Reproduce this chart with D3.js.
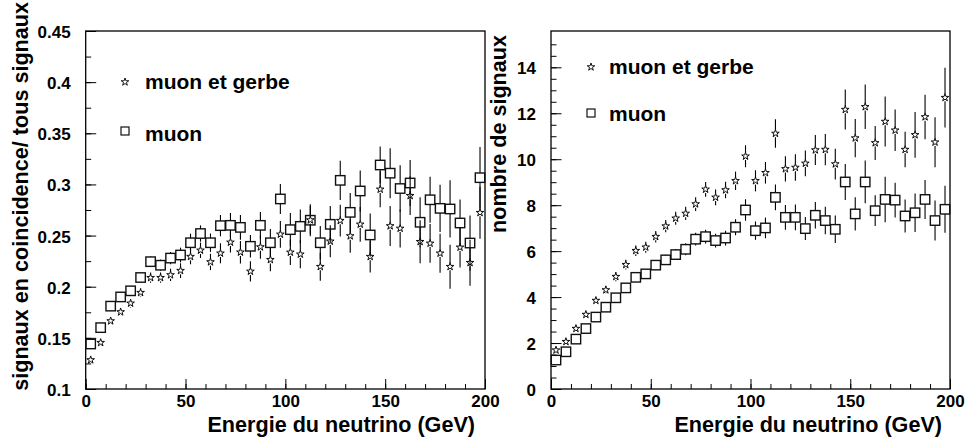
<!DOCTYPE html>
<html><head><meta charset="utf-8">
<script src="https://cdn.jsdelivr.net/npm/d3@7/dist/d3.min.js"></script>
<style>
body{margin:0;background:#fff}
svg{display:block}
text{font-family:"Liberation Sans",Arial,Helvetica,sans-serif;font-weight:bold;fill:#000}
</style>
</head><body>
<svg id="c" width="965" height="440"></svg>
<script>
// bin centres (GeV)
const energy=[2.5,7.5,12.5,17.5,22.5,27.5,32.5,37.5,42.5,47.5,52.5,57.5,62.5,67.5,72.5,77.5,82.5,87.5,92.5,97.5,
102.5,107.5,112.5,117.5,122.5,127.5,132.5,137.5,142.5,147.5,152.5,157.5,162.5,167.5,172.5,177.5,182.5,187.5,192.5,197.5];

// left panel: ratio
const ratioMuon=[0.144,0.160,0.181,0.190,0.196,0.209,0.2245,0.221,0.228,0.231,0.243,0.252,0.243,0.2597,0.260,0.258,0.2395,0.260,0.243,0.2858,
0.2558,0.259,0.265,0.243,0.261,0.304,0.2727,0.2936,0.2506,0.319,0.311,0.296,0.3014,0.263,0.285,0.2766,0.276,0.2623,0.2427,0.3066];
const ratioMuonErr=[0.003,0.003,0.0035,0.004,0.004,0.0045,0.005,0.0055,0.006,0.0072,0.0088,0.008,0.009,0.0104,0.012,0.012,0.011,0.013,0.0134,0.0147,
0.0163,0.0166,0.0156,0.0163,0.018,0.0192,0.019,0.020,0.021,0.018,0.0244,0.0228,0.0225,0.0244,0.0225,0.023,0.028,0.023,0.027,0.030];
const ratioShower=[0.1284,0.1453,0.1665,0.1753,0.1838,0.1942,0.2088,0.2088,0.2115,0.2157,0.2294,0.2356,0.2242,0.2327,0.2434,0.2337,0.215,0.2388,0.2264,0.2512,
0.2336,0.2317,0.2652,0.2196,0.2444,0.2646,0.2496,0.261,0.2294,0.2952,0.2594,0.257,0.289,0.244,0.2424,0.2327,0.2196,0.2385,0.2235,0.2724];
const ratioShowerErr=[0.0025,0.003,0.003,0.0035,0.004,0.004,0.005,0.005,0.006,0.0072,0.0075,0.0075,0.008,0.0098,0.010,0.011,0.0098,0.0114,0.0114,0.013,
0.0124,0.0137,0.014,0.0137,0.0156,0.0156,0.0163,0.017,0.0156,0.0176,0.0196,0.0186,0.019,0.021,0.019,0.019,0.0215,0.0196,0.0225,0.0254];

// right panel: counts
const countMuon=[1.26,1.62,2.17,2.63,3.13,3.56,3.97,4.40,4.86,5.01,5.39,5.62,5.85,6.08,6.52,6.63,6.46,6.57,7.04,7.79,
6.89,7.01,8.34,7.47,7.47,6.98,7.56,7.33,6.95,9.01,7.62,9.01,7.76,8.25,8.22,7.53,7.67,8.25,7.33,7.82];
const countMuonErr=[0.09,0.10,0.12,0.13,0.15,0.16,0.17,0.18,0.20,0.20,0.21,0.22,0.24,0.26,0.28,0.30,0.30,0.32,0.35,0.47,
0.40,0.45,0.56,0.54,0.56,0.50,0.58,0.60,0.60,0.78,0.72,0.93,0.67,0.99,0.76,0.72,0.84,0.85,0.87,1.02];
const countShower=[1.69,2.06,2.63,3.24,3.85,4.31,4.89,5.41,6.02,6.17,6.63,7.09,7.43,7.64,8.05,8.69,8.34,8.66,9.06,10.13,
9.06,9.41,11.12,9.58,9.64,9.82,10.40,10.42,9.79,12.16,10.92,12.28,10.71,11.64,11.26,10.42,11.06,11.84,10.74,12.68];
const countShowerErr=[0.10,0.11,0.13,0.15,0.16,0.18,0.20,0.21,0.23,0.24,0.25,0.27,0.28,0.29,0.30,0.32,0.34,0.36,0.40,0.48,
0.46,0.47,0.62,0.55,0.58,0.56,0.65,0.68,0.67,0.87,0.83,0.97,0.74,1.09,0.90,0.77,1.00,0.97,1.09,1.30];

// ticks and labels
const xTicks=[0,50,100,150,200];
const ratioTicks=[0.1,0.15,0.2,0.25,0.3,0.35,0.4,0.45];
const ratioTickLabels=["0.1","0.15","0.2","0.25","0.3","0.35","0.4","0.45"];
const countTicks=[0,2,4,6,8,10,12,14];
const countTickLabels=["0","2","4","6","8","10","12","14"];
const legendLabels=["muon et gerbe","muon"];
const xTitle="Energie du neutrino (GeV)";
const yTitles=["signaux en coincidence/ tous signaux","nombre de signaux"];

const svg=d3.select("#c");
const SQ=4.7, STAR=18, STAR_R=3.7;
const starPath=d3.symbol(d3.symbolStar,STAR)();

function panel(cfg){
  const x=d3.scaleLinear().domain([0,200]).range([cfg.x0,cfg.x1]);
  const y=d3.scaleLinear().domain(cfg.yDom).range([cfg.y1,cfg.y0]);
  const g=svg.append("g");

  const xMinor=d3.range(0,201,10);
  const gx1=g.append("g").attr("transform",`translate(0,${cfg.y1})`)
    .call(d3.axisBottom(x).tickValues(xMinor).tickSize(-5).tickFormat(""));
  const gx2=g.append("g").attr("transform",`translate(0,${cfg.y1})`)
    .call(d3.axisBottom(x).tickValues(xTicks).tickSize(-10).tickPadding(6).tickFormat(d3.format("d")));
  const gy1=g.append("g").attr("transform",`translate(${cfg.x0},0)`)
    .call(d3.axisLeft(y).tickValues(cfg.minor).tickSize(-5.5).tickFormat(""));
  const gy2=g.append("g").attr("transform",`translate(${cfg.x0},0)`)
    .call(d3.axisLeft(y).tickValues(cfg.ticks).tickSize(-10.5).tickPadding(15)
      .tickFormat((d,i)=>cfg.tickLabels[i]));
  [gx1,gx2,gy1,gy2].forEach(a=>{
    a.select(".domain").remove();
    a.attr("font-family",null).attr("font-size",null);
    a.selectAll("line").attr("stroke","#000").attr("stroke-width",1);
    a.selectAll("text").style("font-size","17px");
  });
  gy2.selectAll("text").attr("dy","0.38em");
  gx2.selectAll("text").attr("dy","0.71em");

  g.append("rect").attr("x",cfg.x0).attr("y",cfg.y0)
    .attr("width",cfg.x1-cfg.x0).attr("height",cfg.y1-cfg.y0)
    .attr("fill","none").attr("stroke","#000").attr("stroke-width",1.3);

  function bars(vals,errs,half){
    const d=energy.map((e,i)=>({e,v:vals[i],err:errs[i]}));
    const gb=g.append("g").attr("stroke","#000").attr("stroke-width",1.1);
    d.forEach(p=>{
      const cx=x(p.e), cy=y(p.v), top=y(p.v+p.err), bot=y(Math.max(p.v-p.err,cfg.yDom[0]));
      if(cy-half>top) gb.append("line").attr("x1",cx).attr("x2",cx).attr("y1",top).attr("y2",cy-half);
      if(bot>cy+half) gb.append("line").attr("x1",cx).attr("x2",cx).attr("y1",cy+half).attr("y2",bot);
    });
  }
  bars(cfg.muon,cfg.muonErr,SQ);
  bars(cfg.shower,cfg.showerErr,STAR_R);

  g.append("g").selectAll("rect").data(energy.map((e,i)=>({e,v:cfg.muon[i]}))).join("rect")
    .attr("x",d=>x(d.e)-SQ).attr("y",d=>y(d.v)-SQ).attr("width",2*SQ).attr("height",2*SQ)
    .attr("fill","none").attr("stroke","#111").attr("stroke-width",1.4);
  g.append("g").selectAll("path").data(energy.map((e,i)=>({e,v:cfg.shower[i]}))).join("path")
    .attr("d",starPath).attr("transform",d=>`translate(${x(d.e)},${y(d.v)})`)
    .attr("fill","none").attr("stroke","#000").attr("stroke-width",0.95);

  const L=cfg.legend;
  g.append("path").attr("d",starPath).attr("transform",`translate(${L.mx},${L.sy})`)
    .attr("fill","none").attr("stroke","#000").attr("stroke-width",0.9);
  g.append("text").attr("x",L.tx).attr("y",L.sb).style("font-size","21px").text(legendLabels[0]);
  g.append("rect").attr("x",L.mx-4).attr("y",L.qy-4).attr("width",8).attr("height",8)
    .attr("fill","none").attr("stroke","#111").attr("stroke-width",1.2);
  g.append("text").attr("x",L.tx).attr("y",L.qb).style("font-size","21px").text(legendLabels[1]);

  g.append("text").attr("x",cfg.xTitleEnd).attr("y",432).attr("text-anchor","end")
    .style("font-size","21.6px").text(xTitle);
  g.append("text").attr("transform",`translate(${cfg.yTitleX},${cfg.yTitleEnd}) rotate(-90)`)
    .attr("text-anchor","end").style("font-size","21.6px").text(cfg.yTitle);
}

panel({x0:85.7,x1:485,y0:31,y1:389,yDom:[0.1,0.45],ticks:ratioTicks,tickLabels:ratioTickLabels,
  minor:d3.range(0,15).map(i=>0.1+i*0.025),
  muon:ratioMuon,muonErr:ratioMuonErr,shower:ratioShower,showerErr:ratioShowerErr,
  legend:{mx:125,sy:82,qy:131,tx:145,sb:89,qb:141},
  xTitleEnd:475,yTitleX:28,yTitleEnd:2,yTitle:yTitles[0]});
panel({x0:551,x1:950,y0:31,y1:389,yDom:[0,15.58],ticks:countTicks,tickLabels:countTickLabels,
  minor:d3.range(0,15.5,0.5),
  muon:countMuon,muonErr:countMuonErr,shower:countShower,showerErr:countShowerErr,
  legend:{mx:591,sy:67,qy:113,tx:609,sb:74,qb:121},
  xTitleEnd:942,yTitleX:506,yTitleEnd:35,yTitle:yTitles[1]});
</script>
</body></html>
